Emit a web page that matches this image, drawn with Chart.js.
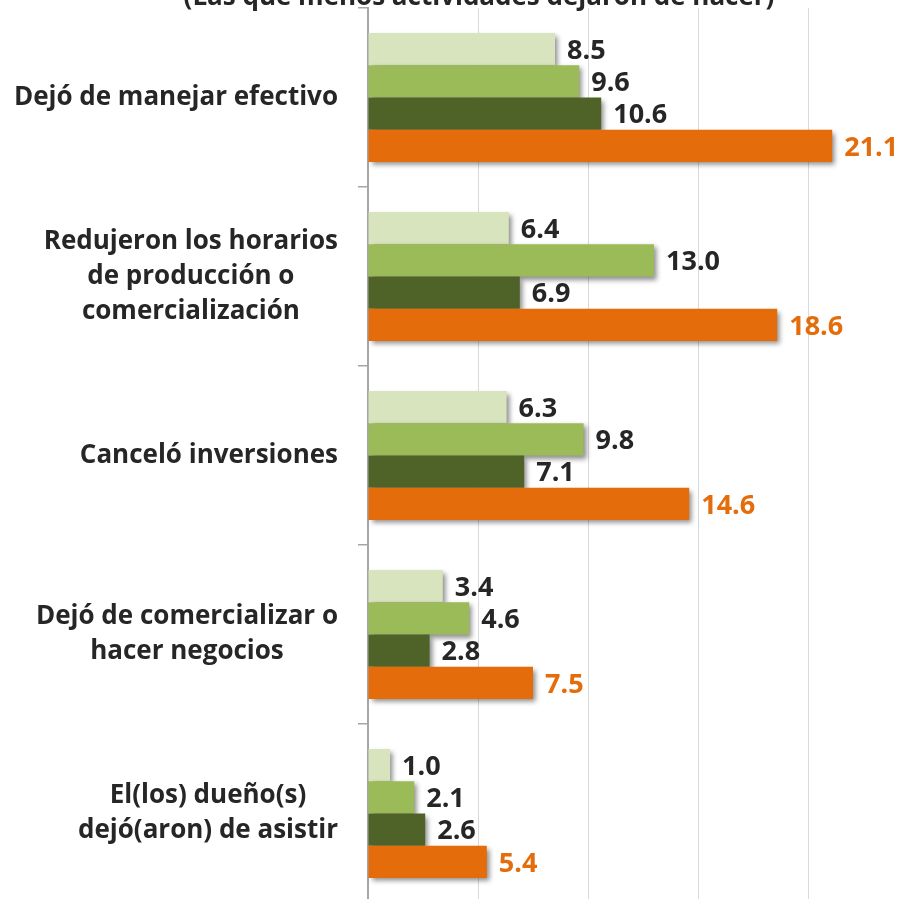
<!DOCTYPE html>
<html><head><meta charset="utf-8">
<script src="https://cdn.jsdelivr.net/npm/chart.js@4"></script>
<style>
html,body{margin:0;padding:0;background:#fff;overflow:hidden;width:909px;height:899px;}
#wrap{position:absolute;left:0;top:0;width:960px;height:960px;}
</style></head><body>
<div id="wrap"><canvas id="c" width="960" height="960"></canvas></div>
<script>
const categories = [
  ["Dejó de manejar efectivo"],
  ["Redujeron los horarios", "de producción o", "comercialización"],
  ["Canceló inversiones"],
  ["Dejó de comercializar o", "hacer negocios"],
  ["El(los) dueño(s)", "dejó(aron) de asistir"]
];
const seriesNames = ["Serie 1", "Serie 2", "Serie 3", "Serie 4"];
const serie1 = [8.5, 6.4, 6.3, 3.4, 1.0];
const serie2 = [9.6, 13.0, 9.8, 4.6, 2.1];
const serie3 = [10.6, 6.9, 7.1, 2.8, 2.6];
const serie4 = [21.1, 18.6, 14.6, 7.5, 5.4];
const xTickStep = 5;
const xMax = 25;
const titleText = "(Las que menos actividades dejaron de hacer)";

const barColors = ["#d7e4bd", "#9bbb59", "#4f6228", "#e46c0a"];
const labelColors = ["#262626", "#262626", "#262626", "#e46c0a"];
const seriesValues = [serie1, serie2, serie3, serie4];

const shadowPlugin = {
  id: 'shadowBars',
  beforeDatasetsDraw(chart) {
    const ctx = chart.ctx;
    ctx.save();
    ctx.shadowColor = 'rgba(0,0,0,0.45)';
    ctx.shadowBlur = 5;
    ctx.shadowOffsetX = 3;
    ctx.shadowOffsetY = 3;
    for (let i = 0; i < chart.data.datasets.length; i++) {
      chart.getDatasetMeta(i).data.forEach(el => el.draw(ctx));
    }
    ctx.restore();
    return false;
  }
};

const textPlugin = {
  id: 'texts',
  afterDraw(chart) {
    const ctx = chart.ctx;
    const area = chart.chartArea;
    ctx.save();
    // value labels
    ctx.textAlign = 'left';
    ctx.textBaseline = 'middle';
    ctx.font = 'bold 27px "Open Sans"';
    chart.data.datasets.forEach((ds, i) => {
      const meta = chart.getDatasetMeta(i);
      ctx.fillStyle = labelColors[i];
      meta.data.forEach((bar, j) => {
        ctx.fillText(ds.data[j].toFixed(1), bar.x + 12, bar.y + 2);
      });
    });
    // category labels
    const ys = chart.scales.y;
    ctx.font = 'bold 26px "Open Sans"';
    ctx.fillStyle = '#262626';
    ctx.textAlign = 'center';
    categories.forEach((lines, j) => {
      const cy = ys.getPixelForValue(j);
      const w = Math.max(...lines.map(l => ctx.measureText(l).width));
      const cx = area.left - 30 - w / 2;
      lines.forEach((l, k) => {
        ctx.fillText(l, cx, cy + (k - (lines.length - 1) / 2) * 35);
      });
    });
    // title (mostly cut off at top)
    ctx.font = 'bold 26px "Open Sans"';
    ctx.textBaseline = 'alphabetic';
    ctx.fillText(titleText, 479, 5);
    ctx.restore();
  }
};

new Chart(document.getElementById('c'), {
  type: 'bar',
  data: {
    labels: categories,
    datasets: seriesValues.map((v, i) => ({
      label: seriesNames[i],
      data: v,
      backgroundColor: barColors[i],
      borderWidth: 0,
      categoryPercentage: 0.72,
      barPercentage: 1.0
    }))
  },
  options: {
    responsive: false,
    animation: false,
    indexAxis: 'y',
    layout: { padding: { left: 358, top: 8, right: 42, bottom: 57 } },
    plugins: { legend: { display: false }, tooltip: { enabled: false }, title: { display: false } },
    scales: {
      x: {
        min: 0, max: xMax,
        ticks: { display: false, stepSize: xTickStep },
        grid: { color: '#d9d9d9', drawTicks: false, lineWidth: 1 },
        border: { display: false }
      },
      y: {
        ticks: { display: false },
        grid: { drawOnChartArea: false, tickLength: 10, color: '#a6a6a6', lineWidth: 1.5, offset: true },
        border: { color: '#a6a6a6', width: 2 }
      }
    }
  },
  plugins: [shadowPlugin, textPlugin]
});
</script>
</body></html>
